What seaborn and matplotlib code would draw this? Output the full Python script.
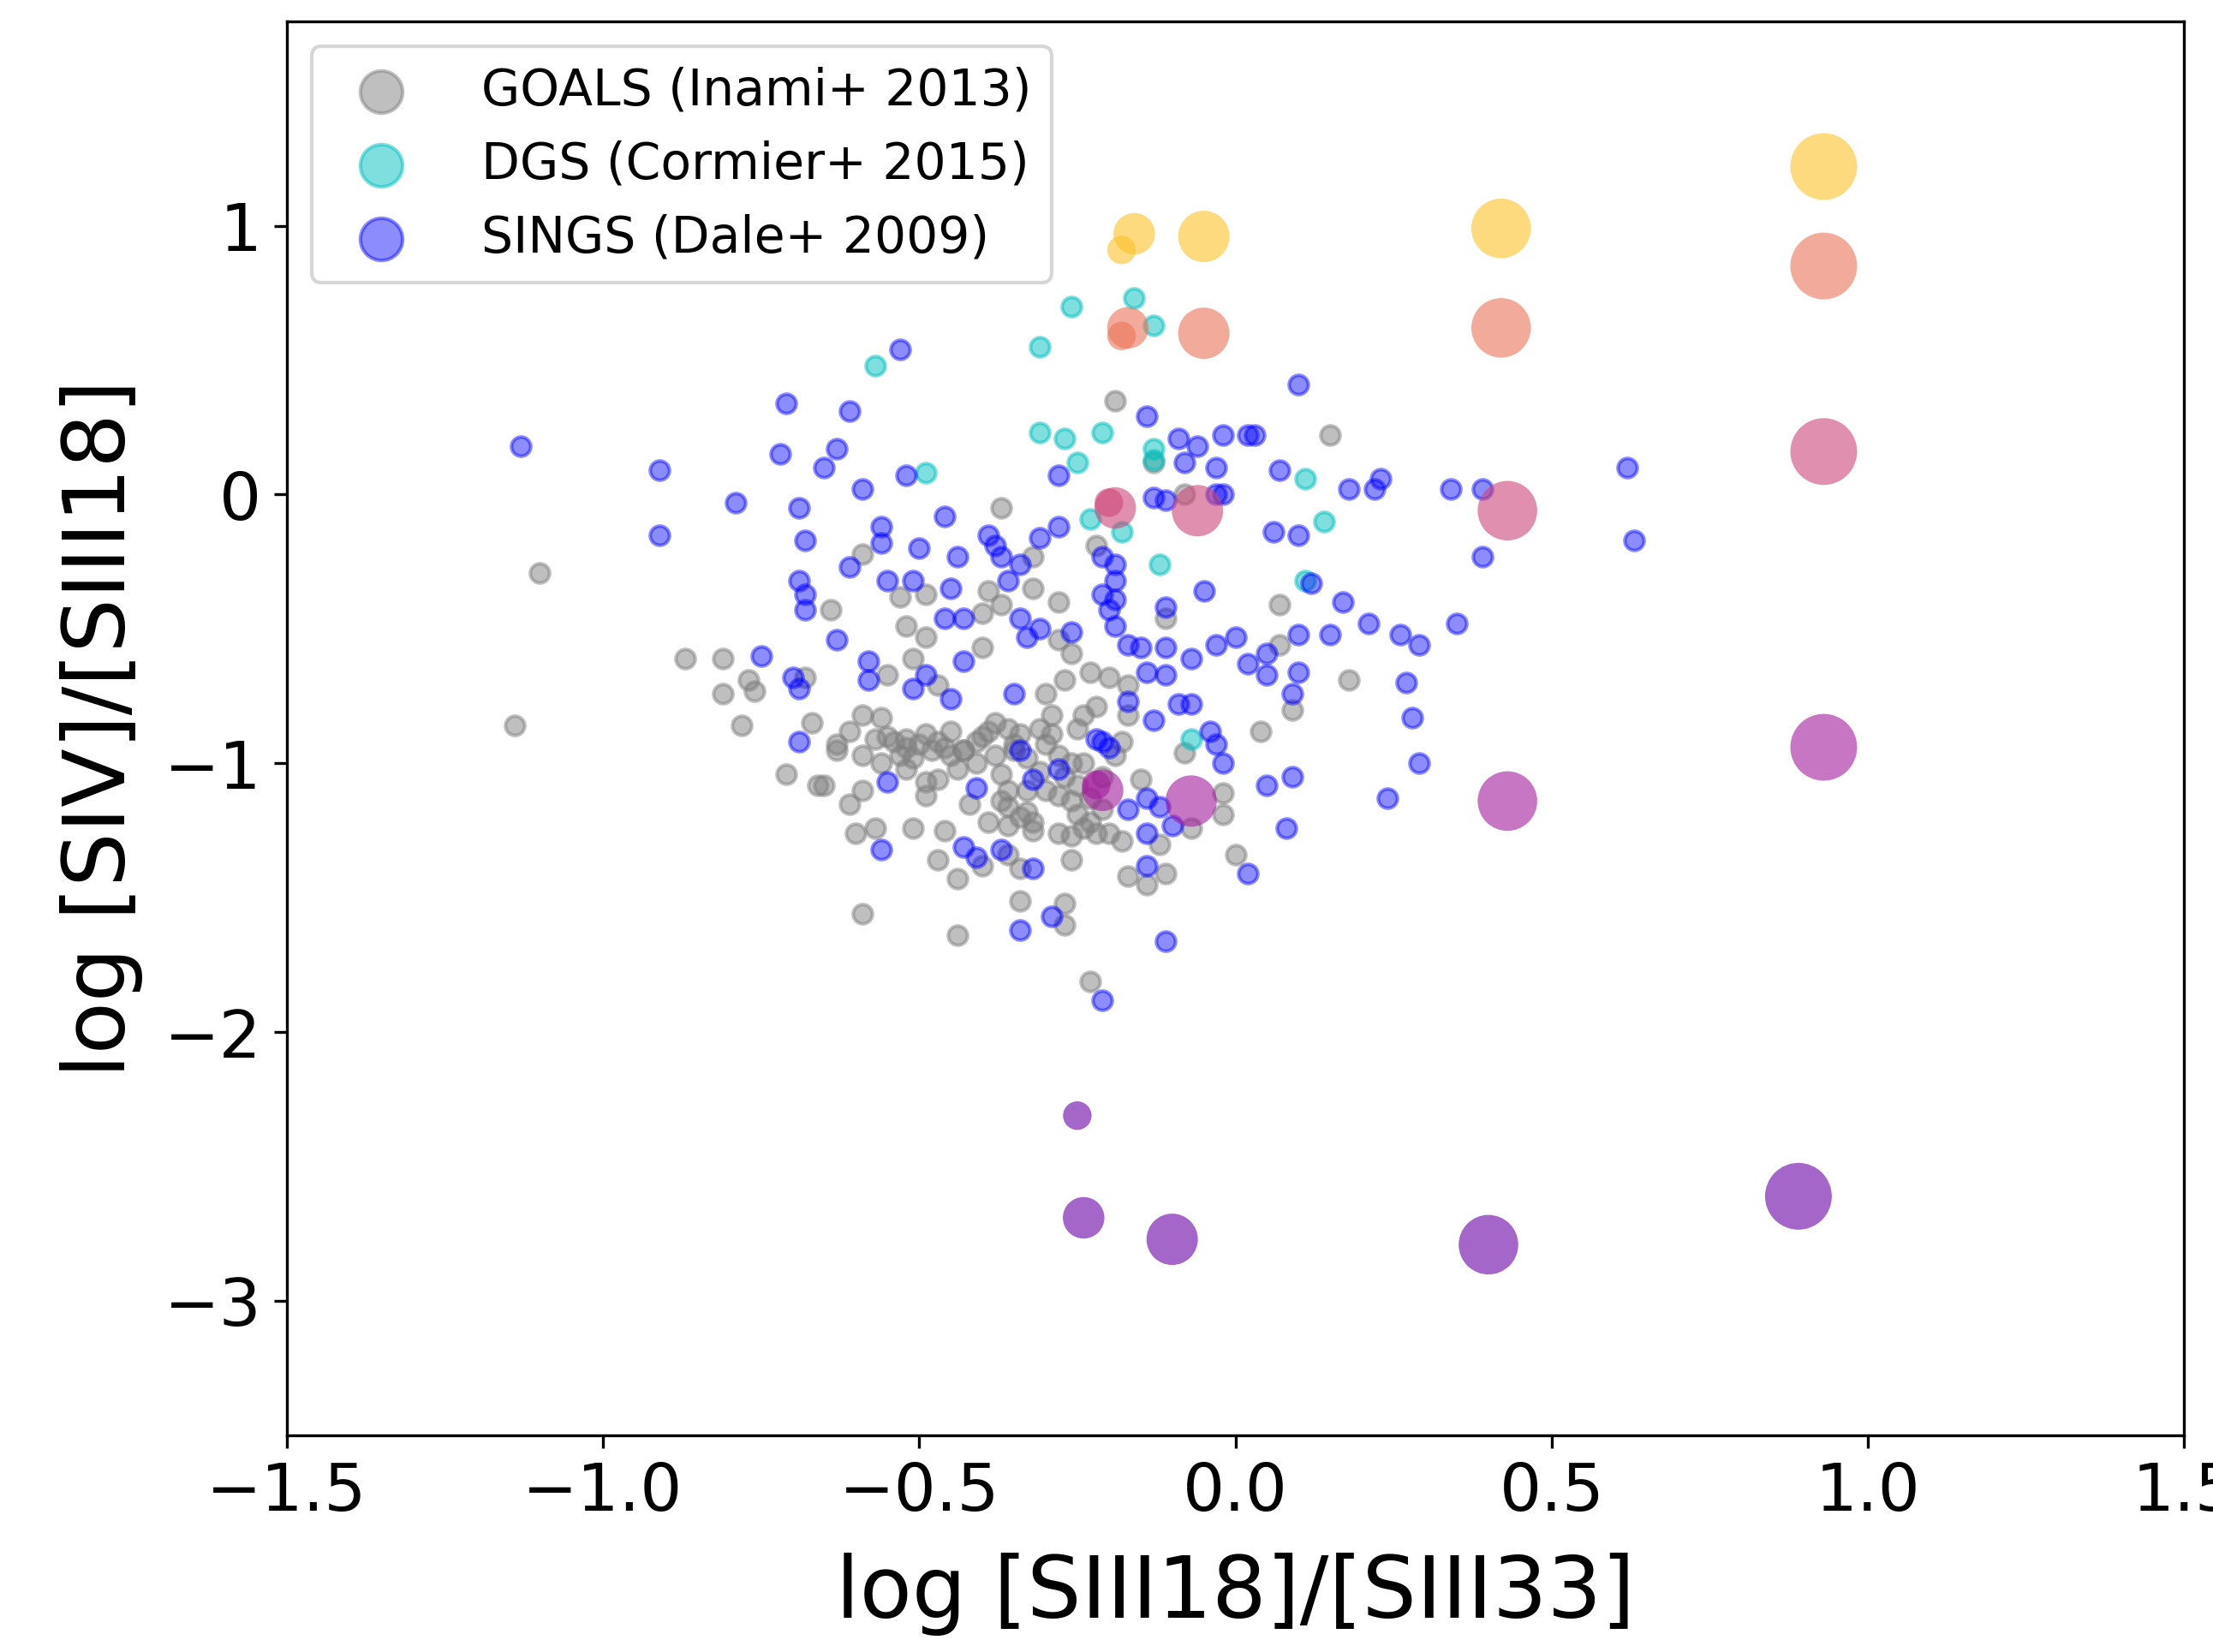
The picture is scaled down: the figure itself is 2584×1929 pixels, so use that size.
"""Mid-IR sulphur line ratio diagram: GOALS / DGS / SINGS samples plus model grid."""

import matplotlib
matplotlib.use("Agg")
import matplotlib.pyplot as plt
import pandas as pd
import seaborn as sns

# ---------------------------------------------------------------------------
# Data
# ---------------------------------------------------------------------------

# GOALS (Inami+ 2013)
goals_x = [-1.10, -0.64, -0.59, -1.14, -0.87, -0.81, -0.77, -0.76, -0.81, -0.78,
           -0.68, -0.67, -0.71, -0.66, -0.65, -0.63, -0.61, -0.63, -0.61,
           -0.19, -0.37, -0.53, -0.49, -0.52, -0.49, -0.39, -0.40, -0.37, -0.32,
           -0.28, -0.32, -0.28, -0.22, -0.11, -0.08, -0.13, -0.40,
           0.15, 0.07, 0.18, 0.04, 0.09, 0.00, 0.07,
           -0.51, -0.55, -0.47, -0.26, -0.27, -0.23, -0.20, -0.30, -0.17, -0.59,
           -0.56, -0.57, -0.54, -0.52, -0.49, -0.46, -0.59, -0.56, -0.53, -0.51,
           -0.48, -0.45, -0.41, -0.38, -0.36, -0.34, -0.31, -0.29, -0.29, -0.24,
           -0.22, -0.18, -0.17, -0.19, -0.59, -0.49, -0.47, -0.49, -0.44, -0.41,
           -0.38, -0.37, -0.36, -0.37, -0.33, -0.30, -0.28, -0.26, -0.25, -0.23,
           -0.28, -0.26, -0.24, -0.39, -0.36, -0.32, -0.32, -0.28, -0.26, -0.24,
           -0.20, -0.18, -0.15, -0.02, -0.02, -0.07, -0.12, -0.08, -0.57, -0.60,
           -0.51, -0.46, -0.47, -0.44, -0.36, -0.34, -0.40, -0.26, -0.17, -0.14,
           -0.11, -0.34, -0.27, -0.27, -0.59, -0.44, -0.23,
           -0.43, -0.35, -0.31, -0.45, -0.33, -0.25, -0.21, -0.52, -0.42,
           -0.55, -0.52, -0.50, -0.47, -0.43, -0.40, -0.39, -0.35, -0.33, -0.30,
           -0.27, -0.25, -0.23, -0.21, -0.22, -0.36, -0.34]
goals_y = [-0.29, -0.43, -0.22, -0.86, -0.61, -0.61, -0.69, -0.73, -0.74, -0.86,
           -0.68, -0.85, -1.04, -1.08, -1.08, -0.93, -0.88, -0.95, -1.15,
           0.35, -0.05, -0.38, -0.37, -0.49, -0.53, -0.36, -0.44, -0.41, -0.35,
           -0.40, -0.23, -0.54, -0.19, -0.46, 0.00, 0.12, -0.57,
           0.22, -0.41, -0.69, -0.88, -0.80, -1.34, -0.56,
           -0.61, -0.67, -0.71, -0.59, -0.69, -0.66, -0.68, -0.74, -0.71, -0.82,
           -0.83, -0.91, -0.92, -0.91, -0.89, -0.94, -0.97, -1.00, -0.97, -0.98,
           -0.95, -0.97, -0.92, -0.85, -0.87, -0.89, -0.87, -0.82, -0.89, -0.82,
           -0.79, -0.92, -0.82, -0.97, -1.10, -1.07, -1.06, -1.12, -1.02, -1.00,
           -0.97, -1.04, -1.10, -1.14, -1.10, -1.10, -1.12, -1.14, -1.19, -1.22,
           -0.97, -1.00, -1.00, -1.22, -1.23, -1.22, -1.25, -1.26, -1.27, -1.24,
           -1.26, -1.29, -1.06, -1.11, -1.19, -1.24, -1.30, -0.96, -1.24, -1.26,
           -1.24, -1.25, -1.36, -1.43, -1.34, -1.39, -1.38, -1.36, -1.42, -1.45,
           -1.41, -1.51, -1.52, -1.60, -1.56, -1.64, -1.81,
           -0.95, -0.93, -1.03, -0.88, -1.18, -0.87, -1.05, -1.02, -1.15,
           -0.90, -0.94, -0.93, -0.92, -0.95, -0.90, -0.88, -0.95, -0.98, -0.93,
           -1.05, -1.08, -1.13, -1.17, -1.26, -1.16, -1.20]

# DGS (Cormier+ 2015)
dgs_x = [-0.57, -0.26, -0.16, -0.13, -0.31, -0.31, -0.27, -0.21, -0.25, -0.13,
         -0.13, -0.49, -0.23, -0.18, -0.12, 0.11, 0.14, 0.11, -0.07]
dgs_y = [0.48, 0.70, 0.73, 0.63, 0.55, 0.23, 0.21, 0.23, 0.12, 0.17,
         0.13, 0.08, -0.09, -0.14, -0.26, 0.06, -0.10, -0.32, -0.91]

# SINGS (Dale+ 2009)
sings_x = [-1.13, -0.91, -0.91, -0.79, -0.71, -0.61, -0.72, -0.63, -0.65, -0.69,
           -0.68, -0.59, -0.61, -0.69, -0.68, -0.68, -0.63,
           -0.75, -0.70, -0.69, -0.69,
           -0.53, -0.52, -0.46, -0.56, -0.56, -0.50, -0.44, -0.55, -0.51, -0.45,
           -0.46, -0.43, -0.39, -0.38, -0.37, -0.34, -0.36, -0.31, -0.28, -0.28,
           -0.34, -0.31, -0.26, -0.33, -0.14, -0.09, -0.06, -0.02, -0.08, -0.03,
           -0.13, -0.11, -0.03, -0.02, -0.21, -0.19, -0.19, -0.21, -0.19, -0.20,
           -0.19, -0.05, -0.11, 0.00, -0.03, -0.17, -0.15, -0.11,
           0.10, 0.02, 0.03, 0.07, 0.18, 0.22, 0.23, 0.34, 0.39, 0.62,
           0.63, 0.39, 0.06, 0.10, 0.12, 0.17, 0.21, 0.35, 0.10, 0.15,
           0.26, 0.29,
           0.05, 0.02, 0.05, 0.10, 0.09, 0.27, 0.28, 0.29, 0.24, 0.05,
           0.09, 0.08, 0.02,
           -0.58, -0.58, -0.51, -0.49, -0.43, -0.45, -0.35, -0.34, -0.28, -0.32,
           -0.41, -0.55, -0.56, -0.43, -0.41, -0.37, -0.32, -0.34, -0.29, -0.21,
           -0.22, -0.21, -0.20, -0.17, -0.17, -0.14, -0.12, -0.10, -0.14, -0.14,
           -0.11, -0.13, -0.09, -0.07, -0.04, -0.03, -0.02, -0.07, -0.14, -0.11]
sings_y = [0.18, 0.09, -0.15, -0.03, 0.34, 0.31, 0.15, 0.17, 0.10, -0.05,
           -0.17, 0.02, -0.27, -0.32, -0.37, -0.43, -0.54,
           -0.60, -0.68, -0.72, -0.92,
           0.54, 0.07, -0.08, -0.12, -0.18, -0.20, -0.23, -0.32, -0.32, -0.35,
           -0.46, -0.46, -0.15, -0.19, -0.23, -0.26, -0.32, -0.16, -0.12, 0.07,
           -0.46, -0.50, -0.51, -0.53, 0.29, 0.21, 0.18, 0.22, 0.12, 0.10,
           -0.01, -0.02, 0.00, 0.00, -0.23, -0.26, -0.32, -0.37, -0.39, -0.43,
           -0.49, -0.36, -0.42, -0.53, -0.56, -0.56, -0.57, -0.57,
           0.41, 0.22, 0.22, 0.09, 0.02, 0.02, 0.06, 0.02, 0.02, 0.10,
           -0.17, -0.23, -0.14, -0.15, -0.33, -0.40, -0.48, -0.48, -0.52, -0.52,
           -0.52, -0.56,
           -0.59, -0.63, -0.67, -0.66, -0.74, -0.70, -0.83, -1.00, -1.13, -1.08,
           -1.05, -1.24, -1.41,
           -0.62, -0.69, -0.72, -0.67, -0.62, -0.76, -0.74, -0.95, -1.02, -1.06,
           -1.09, -1.07, -1.32, -1.31, -1.35, -1.32, -1.39, -1.62, -1.57, -1.88,
           -0.91, -0.92, -0.94, -0.77, -1.17, -1.13, -1.16, -1.23, -1.26, -1.38,
           -1.66, -0.84, -0.78, -0.78, -0.88, -0.93, -1.00, -0.61, -0.66, -0.67]

# Model grid (colour level on the plasma map, size class 1-5)
model_x = [-0.18, -0.18, -0.20, -0.22, -0.25,
           -0.16, -0.17, -0.19, -0.21, -0.24,
           -0.05, -0.05, -0.06, -0.07, -0.10,
           0.42, 0.42, 0.43, 0.43, 0.40,
           0.93, 0.93, 0.93, 0.93, 0.89]
model_y = [0.91, 0.59, -0.03, -1.08, -2.31,
           0.97, 0.62, -0.05, -1.10, -2.69,
           0.96, 0.60, -0.06, -1.14, -2.77,
           0.99, 0.62, -0.06, -1.14, -2.79,
           1.22, 0.85, 0.16, -0.94, -2.61]
model_level = [0.87, 0.65, 0.5, 0.35, 0.2] * 5
model_size = [1] * 5 + [2] * 5 + [3] * 5 + [4] * 5 + [5] * 5

# ---------------------------------------------------------------------------
# Figure
# ---------------------------------------------------------------------------

plt.rcParams["font.family"] = ["DejaVu Sans"]

fig, ax = plt.subplots(figsize=(8.6135, 6.4305), dpi=300)
fig.subplots_adjust(left=0.1295, right=0.987, bottom=0.131, top=0.987)

samples = [
    (goals_x, goals_y, "gray", 0.5, "GOALS (Inami+ 2013)"),
    (dgs_x, dgs_y, "c", 0.5, "DGS (Cormier+ 2015)"),
    (sings_x, sings_y, "blue", 0.45, "SINGS (Dale+ 2009)"),
]
for xs, ys, col, alpha, label in samples:
    sns.scatterplot(
        x=xs, y=ys, color=col, edgecolor=col, alpha=alpha,
        s=29, linewidth=1.0, label=label, ax=ax,
    )

model_df = pd.DataFrame({
    "x": model_x, "y": model_y, "level": model_level, "size": model_size,
})
sns.scatterplot(
    data=model_df, x="x", y="y", hue="level", size="size",
    palette="plasma", hue_norm=(0, 1), sizes=(64, 350), size_norm=(1, 5),
    alpha=0.6, linewidth=0, legend=False, ax=ax,
)

ax.set_xlim(-1.5, 1.5)
ax.set_ylim(-3.5, 1.76)
ax.set_xticks([-1.5, -1.0, -0.5, 0.0, 0.5, 1.0, 1.5])
ax.set_yticks([-3, -2, -1, 0, 1])
ax.tick_params(labelsize=18.5)
ax.set_xlabel("log [SIII18]/[SIII33]", fontsize=24, labelpad=8)
ax.set_ylabel("log [SIV]/[SIII18]", fontsize=24, labelpad=6)

ax.legend(loc="upper left", fontsize=14, markerscale=2.2, handletextpad=1.0)

fig.savefig("out.png", dpi=300)
plt.close(fig)
